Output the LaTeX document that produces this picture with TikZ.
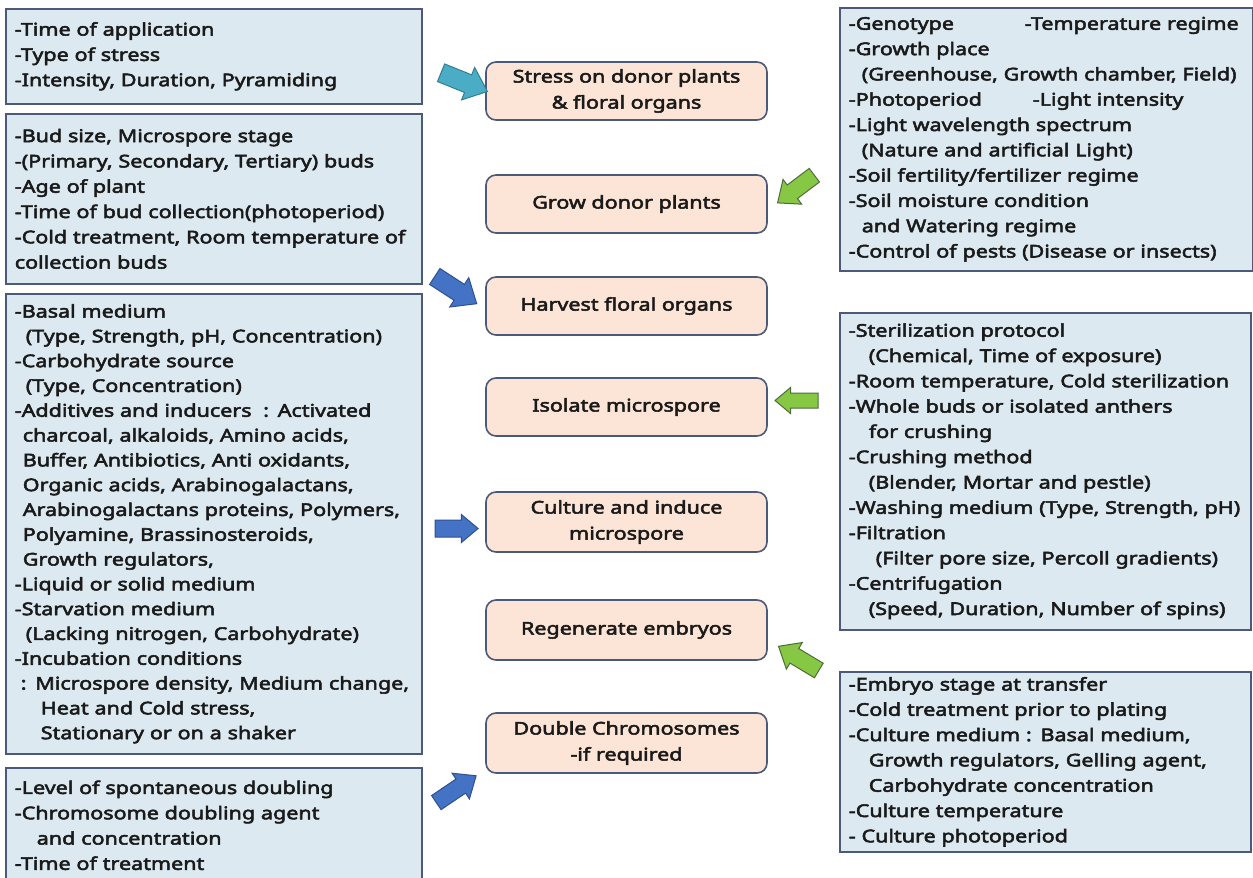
\documentclass[tikz,border=0pt]{standalone}
\usepackage{fontspec}
\setmainfont{Noto Sans}[FakeStretch=1.23, AutoFakeBold=3]
\usetikzlibrary{shapes.arrows}
\definecolor{infofill}{HTML}{DCE9F1}
\definecolor{infoline}{HTML}{4A5A78}
\definecolor{stepfill}{HTML}{FCE5D6}
\definecolor{stepline}{HTML}{4A5A78}
\definecolor{txt}{HTML}{1A1A1A}
\definecolor{cyanfill}{HTML}{4BACC6}
\definecolor{cyanline}{HTML}{357D92}
\definecolor{bluefill}{HTML}{4472C4}
\definecolor{blueline}{HTML}{2F528F}
\definecolor{greenfill}{HTML}{86C844}
\definecolor{greenline}{HTML}{4F6B3A}
\tikzset{
  infobox/.style={draw=infoline, fill=infofill, line width=1.6pt, anchor=north west,
    align=left, inner xsep=9pt, inner ysep=0pt, text=txt,
    font=\fontsize{17.5}{25.3}\selectfont\bfseries},
  stepbox/.style={draw=stepline, fill=stepfill, line width=1.6pt, rounded corners=10pt,
    minimum width=281pt, minimum height=58pt, align=center, text=txt,
    font=\fontsize{17.5}{26}\selectfont\bfseries},
  blockarrow/.style={single arrow, line width=1pt, inner xsep=0pt, text height=0pt,
    text depth=0pt, single arrow tip angle=80},
  cyanarrow/.style={blockarrow, fill=cyanfill, draw=cyanline},
  bluearrow/.style={blockarrow, fill=bluefill, draw=blueline},
  greenarrow/.style={blockarrow, fill=greenfill, draw=greenline},
}
\newcommand{\ind}[1]{\hspace*{#1pt}}
\begin{document}
\begin{tikzpicture}[x=1pt,y=-1pt]
\clip (0,0) rectangle (1253,878);
\fill[white] (0,0) rectangle (1253,878);

% centre steps
\node[stepbox] (s1) at (626.5,91) {Stress on donor plants\\ \& floral organs};
\node[stepbox] (s2) at (626.5,204) {Grow donor plants};
\node[stepbox] (s3) at (626.5,306) {Harvest floral organs};
\node[stepbox] (s4) at (626.5,407) {Isolate microspore};
\node[stepbox, minimum height=60pt] (s5) at (626.5,522) {Culture and induce\\ microspore};
\node[stepbox, minimum height=60pt] (s6) at (626.5,630) {Regenerate embryos};
\node[stepbox, minimum height=60pt] (s7) at (626.5,743) {Double Chromosomes\\ -if required};

% left boxes
\node[infobox, text width=398pt, minimum height=95pt] (l1) at (5,8) {-Time of application\\
-Type of stress\\
-Intensity, Duration, Pyramiding};

\node[infobox, text width=398pt, minimum height=170pt] (l2) at (5,113) {-Bud size, Microspore stage\\
-(Primary, Secondary, Tertiary) buds\\
-Age of plant\\
-Time of bud collection(photoperiod)\\
-Cold treatment, Room temperature of\\
collection buds};

\node[infobox, text width=398pt, minimum height=460pt,
  font=\fontsize{17.5}{24.8}\selectfont\bfseries] (l3) at (5,293) {-Basal medium\\
\ind{11}(Type, Strength, pH, Concentration)\\
-Carbohydrate source\\
\ind{11}(Type, Concentration)\\
-Additives and inducers\ \ : Activated\\
\ind{8}charcoal, alkaloids, Amino acids,\\
\ind{8}Buffer, Antibiotics, Anti oxidants,\\
\ind{8}Organic acids, Arabinogalactans,\\
\ind{8}Arabinogalactans proteins, Polymers,\\
\ind{8}Polyamine, Brassinosteroids,\\
\ind{8}Growth regulators,\\
-Liquid or solid medium\\
-Starvation medium\\
\ind{11}(Lacking nitrogen, Carbohydrate)\\
-Incubation conditions\\
\ind{6}: Microspore density, Medium change,\\
\ind{26}Heat and Cold stress,\\
\ind{26}Stationary or on a shaker};

\node[infobox, text width=398pt, minimum height=115pt] (l4) at (5,767) {-Level of spontaneous doubling\\
-Chromosome doubling agent\\
\ind{22}and concentration\\
-Time of treatment};

% right boxes
\node[infobox, text width=395pt, minimum height=263pt] (r1) at (839,7) {\mbox{\makebox[176pt][l]{-Genotype}-Temperature regime}\\
-Growth place\\
\ind{13}(Greenhouse, Growth chamber, Field)\\
\makebox[184pt][l]{-Photoperiod}-Light intensity\\
-Light wavelength spectrum\\
\ind{13}(Nature and artificial Light)\\
-Soil fertility/fertilizer regime\\
-Soil moisture condition\\
\ind{13}and Watering regime\\
-Control of pests (Disease or insects)};

\node[infobox, text width=393pt, minimum height=317pt] (r2) at (839,312) {-Sterilization protocol\\
\ind{20}(Chemical, Time of exposure)\\
-Room temperature, Cold sterilization\\
-Whole buds or isolated anthers\\
\ind{20}for crushing\\
-Crushing method\\
\ind{20}(Blender, Mortar and pestle)\\
-Washing medium (Type, Strength, pH)\\
-Filtration\\
\ind{27}(Filter pore size, Percoll gradients)\\
-Centrifugation\\
\ind{20}(Speed, Duration, Number of spins)};

\node[infobox, text width=393pt, minimum height=180pt] (r3) at (839,671) {-Embryo stage at transfer\\
-Cold treatment prior to plating\\
-Culture medium : Basal medium,\\
\ind{20}Growth regulators, Gelling agent,\\
\ind{20}Carbohydrate concentration\\
-Culture temperature\\
- Culture photoperiod};

% block arrows
\node[cyanarrow, minimum height=50pt, inner ysep=9pt, single arrow head extend=8pt, rotate=-22] (a1) at (459,80) {};
\node[greenarrow, minimum height=46pt, inner ysep=8pt, single arrow head extend=7pt, rotate=217] (a2) at (800,186) {};
\node[bluearrow, minimum height=50pt, inner ysep=9pt, single arrow head extend=8pt, rotate=-33] (a3) at (451,287) {};
\node[greenarrow, minimum height=43pt, inner ysep=7pt, single arrow head extend=5.5pt, rotate=180] (a4) at (801,400.5) {};
\node[bluearrow, minimum height=43pt, inner ysep=8pt, single arrow head extend=5.5pt] (a5) at (451.5,528.5) {};
\node[greenarrow, minimum height=47pt, inner ysep=8pt, single arrow head extend=7pt, rotate=149] (a6) at (803,661) {};
\node[bluearrow, minimum height=48pt, inner ysep=8pt, single arrow head extend=7pt, rotate=34] (a7) at (452,792) {};
\end{tikzpicture}
\end{document}
